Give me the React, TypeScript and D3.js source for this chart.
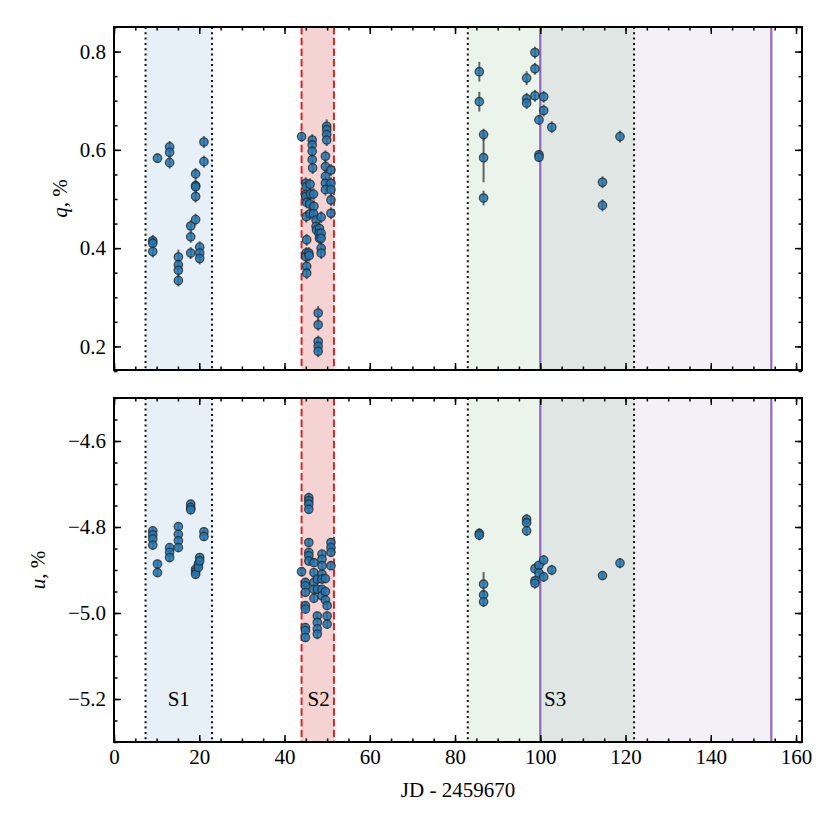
import * as d3 from "d3";
import React, { useEffect, useRef } from "react";

// [JD - 2459670, value, error]
const qS1 = [
    [9.1, 0.415, 0.012], [9.1, 0.41, 0.012], [9.1, 0.393, 0.012],
    [10.2, 0.583, 0.01],
    [13.05, 0.606, 0.012], [13.05, 0.595, 0.012], [13.05, 0.574, 0.012],
    [15.1, 0.382, 0.015], [15.1, 0.366, 0.012], [15.1, 0.355, 0.012], [15.1, 0.334, 0.012],
    [18.0, 0.445, 0.012], [18.0, 0.423, 0.012], [18.0, 0.39, 0.012],
    [19.15, 0.551, 0.012], [19.15, 0.527, 0.012], [19.15, 0.525, 0.012], [19.15, 0.505, 0.012], [19.15, 0.458, 0.012],
    [20.1, 0.402, 0.012], [20.1, 0.39, 0.012], [20.1, 0.379, 0.012],
    [21.1, 0.616, 0.012], [21.1, 0.576, 0.012],
];

const qS2 = [
    [44.0, 0.627, 0.01],
    [45.0, 0.532, 0.012], [45.1, 0.525, 0.012], [44.9, 0.509, 0.012], [45.0, 0.505, 0.012], [45.2, 0.493, 0.012], [45.1, 0.464, 0.012],
    [45.2, 0.417, 0.012], [45.1, 0.39, 0.012], [45.0, 0.383, 0.012], [45.2, 0.363, 0.012], [45.2, 0.349, 0.012],
    [45.7, 0.39, 0.012], [45.8, 0.385, 0.012],
    [46.0, 0.53, 0.012], [46.1, 0.51, 0.012], [45.9, 0.49, 0.012], [46.0, 0.47, 0.012],
    [46.5, 0.62, 0.012], [46.5, 0.61, 0.012], [46.5, 0.597, 0.012], [46.5, 0.58, 0.012], [46.6, 0.563, 0.012],
    [46.8, 0.51, 0.012], [46.9, 0.485, 0.012], [46.8, 0.47, 0.012],
    [47.4, 0.457, 0.012], [47.4, 0.444, 0.012], [47.5, 0.437, 0.012],
    [47.9, 0.268, 0.014], [47.9, 0.244, 0.012], [47.9, 0.21, 0.012], [47.9, 0.2, 0.012], [47.9, 0.19, 0.012],
    [48.2, 0.44, 0.012], [48.1, 0.43, 0.012], [48.2, 0.42, 0.012],
    [48.6, 0.463, 0.012], [48.6, 0.43, 0.012], [48.6, 0.42, 0.012], [48.6, 0.40, 0.012], [48.6, 0.39, 0.012],
    [49.6, 0.587, 0.012], [49.6, 0.566, 0.012], [49.6, 0.546, 0.012], [49.6, 0.532, 0.012], [49.6, 0.519, 0.012],
    [49.9, 0.648, 0.014], [49.9, 0.641, 0.012], [49.9, 0.631, 0.012], [49.9, 0.62, 0.012],
    [50.9, 0.559, 0.012], [50.9, 0.532, 0.012], [50.9, 0.519, 0.012], [50.9, 0.498, 0.012], [50.9, 0.471, 0.012],
];

const qS3 = [
    [85.7, 0.759, 0.02], [85.7, 0.698, 0.02],
    [86.7, 0.631, 0.012], [86.7, 0.584, 0.05], [86.7, 0.502, 0.015],
    [96.8, 0.746, 0.014], [96.8, 0.704, 0.012], [96.8, 0.695, 0.012],
    [98.75, 0.798, 0.012], [98.75, 0.765, 0.012], [98.75, 0.71, 0.012],
    [99.7, 0.661, 0.01], [99.7, 0.59, 0.01], [99.7, 0.585, 0.01],
    [100.8, 0.708, 0.012], [100.8, 0.68, 0.012],
    [102.7, 0.646, 0.012],
    [114.6, 0.534, 0.012], [114.6, 0.487, 0.012],
    [118.7, 0.627, 0.012],
];

const uS1 = [
    [9.1, -4.809, 0.01], [9.1, -4.818, 0.01], [9.1, -4.828, 0.01], [9.1, -4.842, 0.01],
    [10.2, -4.886, 0.01], [10.2, -4.906, 0.01],
    [13.05, -4.848, 0.01], [13.05, -4.859, 0.01], [13.05, -4.871, 0.01],
    [15.1, -4.799, 0.01], [15.1, -4.817, 0.01], [15.1, -4.832, 0.01], [15.1, -4.848, 0.01],
    [18.0, -4.747, 0.01], [18.0, -4.755, 0.01], [18.0, -4.76, 0.01],
    [19.15, -4.898, 0.01], [19.15, -4.904, 0.01], [19.15, -4.91, 0.01],
    [19.8, -4.886, 0.01], [19.8, -4.894, 0.01],
    [20.1, -4.871, 0.01], [20.1, -4.879, 0.01],
    [21.1, -4.811, 0.01], [21.1, -4.822, 0.01],
];

const uS2 = [
    [44.0, -4.904, 0.01],
    [45.7, -4.732, 0.012], [45.7, -4.739, 0.01], [45.7, -4.747, 0.01], [45.7, -4.759, 0.01],
    [45.7, -4.836, 0.01], [45.7, -4.859, 0.01], [45.7, -4.867, 0.01], [45.7, -4.879, 0.01],
    [44.9, -4.929, 0.01], [44.9, -4.937, 0.01], [44.9, -4.952, 0.01], [44.9, -4.983, 0.01],
    [44.9, -4.991, 0.01], [44.9, -5.034, 0.01], [44.9, -5.041, 0.01], [44.9, -5.057, 0.01],
    [46.9, -4.883, 0.01], [46.9, -4.906, 0.01], [46.9, -4.929, 0.01], [46.9, -4.945, 0.01], [46.9, -4.966, 0.01],
    [47.7, -4.921, 0.01], [47.7, -4.945, 0.01], [47.7, -5.007, 0.01], [47.7, -5.022, 0.01], [47.7, -5.037, 0.01], [47.7, -5.049, 0.012],
    [48.8, -4.863, 0.01], [48.8, -4.875, 0.01], [48.8, -4.89, 0.01], [48.8, -4.91, 0.01], [48.8, -4.921, 0.01],
    [48.8, -4.945, 0.01], [48.8, -4.96, 0.01],
    [49.6, -4.92, 0.01], [49.6, -4.95, 0.01], [49.6, -4.97, 0.01],
    [50.0, -4.983, 0.01], [50.0, -5.007, 0.01], [50.0, -5.026, 0.01],
    [50.9, -4.836, 0.01], [50.9, -4.848, 0.01], [50.9, -4.859, 0.01], [50.9, -4.89, 0.01],
];

const uS3 = [
    [85.7, -4.815, 0.012], [85.7, -4.819, 0.012],
    [86.7, -4.933, 0.028], [86.7, -4.958, 0.012], [86.7, -4.974, 0.012],
    [96.8, -4.782, 0.012], [96.8, -4.79, 0.012], [96.8, -4.809, 0.012],
    [98.75, -4.897, 0.012], [98.75, -4.925, 0.012], [98.75, -4.931, 0.012],
    [99.7, -4.889, 0.01], [99.7, -4.907, 0.01],
    [100.8, -4.877, 0.012], [100.8, -4.916, 0.012],
    [102.7, -4.9, 0.012],
    [114.6, -4.913, 0.01],
    [118.7, -4.884, 0.012],
];

// shaded intervals [from, to, fill]
const spans = [
    [7.4, 23.0, "#e7eff7"],
    [44.0, 51.6, "#f6d3d3"],
    [83.0, 100.0, "#eaf4ea"],
    [100.0, 122.0, "#e0e6e4"],
    [122.0, 154.2, "#f3f0f7"],
];

const dottedLines = [7.4, 23.0, 83.0, 122.0];
const dashedLines = [44.0, 51.6];
const purpleLines = [100.0, 154.2];

const segmentLabels = [["S1", 15.2], ["S2", 48.0], ["S3", 103.5]];

const xTicks = [0, 20, 40, 60, 80, 100, 120, 140, 160];
const qTicks = [0.2, 0.4, 0.6, 0.8];
const uTicks = [-5.2, -5.0, -4.8, -4.6];

const FONT = "Liberation Serif";
const FS = 21;

function styleText(sel: any) {
    return sel
        .attr("font-family", FONT)
        .attr("font-size", FS)
        .attr("fill", "#000");
}

function drawPanel(svg: any, x: any, y: any, top: number, bottom: number, points: number[][], yTicks: number[], yMinor: number[], showX: boolean) {
    const left = x.range()[0];
    const right = x.range()[1];
    const g = svg.append("g");

    spans.forEach((s: any) => {
        g.append("rect")
            .attr("x", x(s[0]))
            .attr("y", top)
            .attr("width", x(s[1]) - x(s[0]))
            .attr("height", bottom - top)
            .attr("fill", s[2]);
    });

    dottedLines.forEach((v) => {
        g.append("line")
            .attr("x1", x(v)).attr("x2", x(v))
            .attr("y1", top).attr("y2", bottom)
            .attr("stroke", "#111")
            .attr("stroke-width", 2)
            .attr("stroke-dasharray", "2,3.3");
    });
    dashedLines.forEach((v) => {
        g.append("line")
            .attr("x1", x(v)).attr("x2", x(v))
            .attr("y1", top).attr("y2", bottom)
            .attr("stroke", "#d62728")
            .attr("stroke-width", 2)
            .attr("stroke-dasharray", "7.5,3.2");
    });
    purpleLines.forEach((v) => {
        g.append("line")
            .attr("x1", x(v)).attr("x2", x(v))
            .attr("y1", top).attr("y2", bottom)
            .attr("stroke", "#9467bd")
            .attr("stroke-width", 2.2);
    });

    // error bars
    g.selectAll(".err")
        .data(points)
        .enter().append("line")
        .attr("x1", (d: any) => x(d[0]))
        .attr("x2", (d: any) => x(d[0]))
        .attr("y1", (d: any) => y(d[1] - d[2]))
        .attr("y2", (d: any) => y(d[1] + d[2]))
        .attr("stroke", "#333")
        .attr("stroke-opacity", 0.75)
        .attr("stroke-width", 2);

    g.selectAll(".pt")
        .data(points)
        .enter().append("circle")
        .attr("cx", (d: any) => x(d[0]))
        .attr("cy", (d: any) => y(d[1]))
        .attr("r", 4.2)
        .attr("fill", "#1f77b4")
        .attr("fill-opacity", 0.85)
        .attr("stroke", "#2b2b2b")
        .attr("stroke-opacity", 0.8)
        .attr("stroke-width", 1.3);

    const xMinor = d3.range(0, 162, 5);

    g.append("g")
        .attr("transform", `translate(0,${bottom})`)
        .call(d3.axisBottom(x).tickValues(xTicks).tickSize(-7).tickPadding(7)
            .tickFormat(showX ? (d: any) => d3.format("d")(d) : () => ""));
    g.append("g")
        .attr("transform", `translate(0,${bottom})`)
        .call(d3.axisBottom(x).tickValues(xMinor).tickSize(-3.5).tickFormat(() => ""));
    g.append("g")
        .attr("transform", `translate(0,${top})`)
        .call(d3.axisTop(x).tickValues(xTicks).tickSize(-7).tickFormat(() => ""));
    g.append("g")
        .attr("transform", `translate(0,${top})`)
        .call(d3.axisTop(x).tickValues(xMinor).tickSize(-3.5).tickFormat(() => ""));
    g.append("g")
        .attr("transform", `translate(${left},0)`)
        .call(d3.axisLeft(y).tickValues(yTicks).tickSize(-7).tickPadding(8)
            .tickFormat((d: any) => d3.format(".1f")(d)));
    g.append("g")
        .attr("transform", `translate(${left},0)`)
        .call(d3.axisLeft(y).tickValues(yMinor).tickSize(-3.5).tickFormat(() => ""));
    g.append("g")
        .attr("transform", `translate(${right},0)`)
        .call(d3.axisRight(y).tickValues(yTicks).tickSize(-7).tickFormat(() => ""));
    g.append("g")
        .attr("transform", `translate(${right},0)`)
        .call(d3.axisRight(y).tickValues(yMinor).tickSize(-3.5).tickFormat(() => ""));

    g.selectAll(".domain").remove();
    g.selectAll("g").attr("font-family", FONT).attr("font-size", FS);
    g.selectAll(".tick line").attr("stroke", "#000").attr("stroke-width", 1.5);
    styleText(g.selectAll(".tick text"));

    g.append("rect")
        .attr("x", left)
        .attr("y", top)
        .attr("width", right - left)
        .attr("height", bottom - top)
        .attr("fill", "none")
        .attr("stroke", "#000")
        .attr("stroke-width", 2);
}

function Draw(svgRef: any) {
    const width = 830;
    const height = 830;
    const svg = d3.select(svgRef.current)
        .attr("width", width)
        .attr("height", height)
        .attr("viewBox", `0 0 ${width} ${height}`);
    svg.selectAll("*").remove();

    const left = 114, right = 802;
    const top1 = 27, bottom1 = 370;
    const top2 = 398, bottom2 = 742;

    const x = d3.scaleLinear().domain([0, 161.4]).range([left, right]);
    const yq = d3.scaleLinear().domain([0.152, 0.85]).range([bottom1, top1]);
    const yu = d3.scaleLinear().domain([-5.3, -4.5]).range([bottom2, top2]);

    drawPanel(svg, x, yq, top1, bottom1, [...qS1, ...qS2, ...qS3], qTicks, d3.range(0.15, 0.851, 0.05), false);
    drawPanel(svg, x, yu, top2, bottom2, [...uS1, ...uS2, ...uS3], uTicks, d3.range(-5.3, -4.499, 0.05), true);

    segmentLabels.forEach((s: any) => {
        styleText(svg.append("text"))
            .attr("x", x(s[1]))
            .attr("y", yu(-5.2) + 7)
            .attr("text-anchor", "middle")
            .text(s[0]);
    });

    styleText(svg.append("text"))
        .attr("x", (left + right) / 2)
        .attr("y", 797)
        .attr("text-anchor", "middle")
        .text("JD - 2459670");

    const ql = styleText(svg.append("text"))
        .attr("transform", `translate(67,${(top1 + bottom1) / 2}) rotate(-90)`)
        .attr("text-anchor", "middle");
    ql.append("tspan").attr("font-style", "italic").text("q");
    ql.append("tspan").text(", %");

    const ul = styleText(svg.append("text"))
        .attr("transform", `translate(45,${(top2 + bottom2) / 2}) rotate(-90)`)
        .attr("text-anchor", "middle");
    ul.append("tspan").attr("font-style", "italic").text("u");
    ul.append("tspan").text(", %");
}

export default function App() {
    const svg = useRef<SVGSVGElement>(null);
    useEffect(() => {
        Draw(svg);
    });
    return (
        <div style={{ position: "absolute", left: 0, top: 0, background: "#fff" }}>
            <svg ref={svg}></svg>
        </div>
    );
}
